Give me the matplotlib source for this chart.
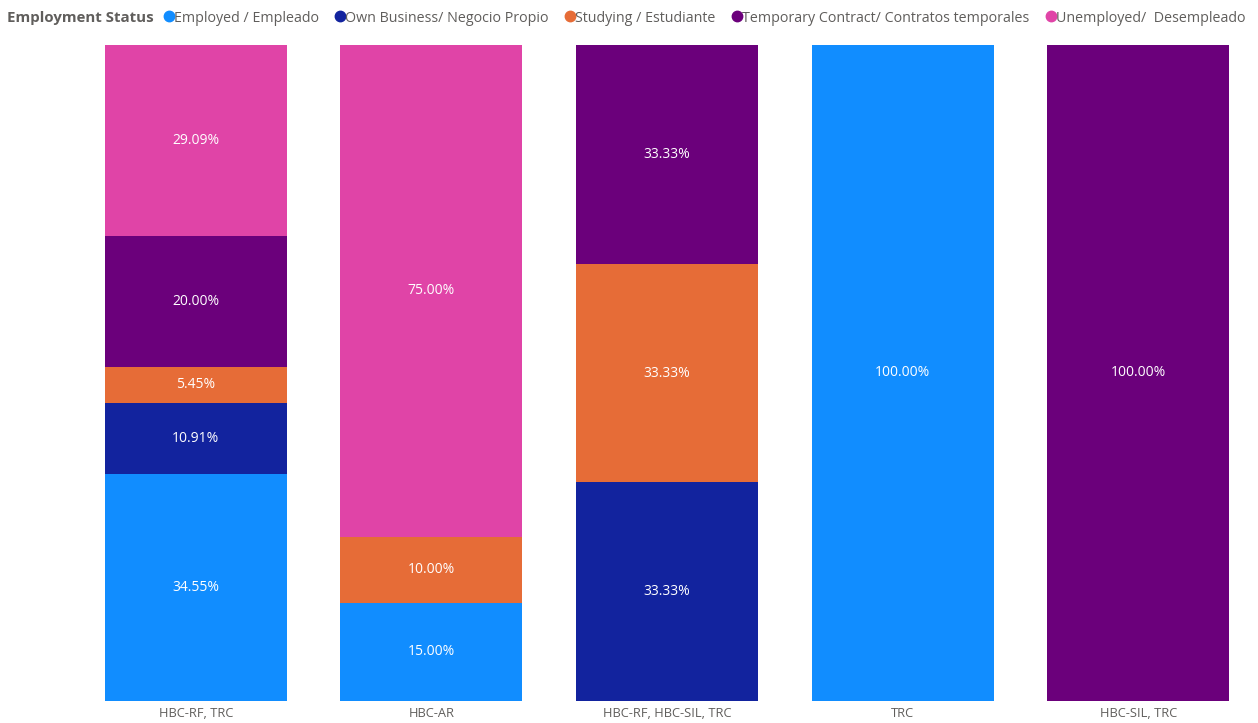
import numpy as np
import matplotlib.pyplot as plt
from matplotlib.lines import Line2D

plt.rcParams['font.family'] = ['Open Sans', 'DejaVu Sans']

# Categorías y porcentajes por estado laboral
grupos = ['HBC-RF, TRC', 'HBC-AR', 'HBC-RF, HBC-SIL, TRC', 'TRC', 'HBC-SIL, TRC']
estados = ['Employed / Empleado', 'Own Business/ Negocio Propio', 'Studying / Estudiante',
           'Temporary Contract/ Contratos temporales', 'Unemployed/  Desempleado']
empleado = [34.55, 15.00, 0, 100.00, 0]
negocio = [10.91, 0, 33.33, 0, 0]
estudiante = [5.45, 10.00, 33.33, 0, 0]
temporal = [20.00, 0, 33.33, 0, 100.00]
desempleado = [29.09, 75.00, 0, 0, 0]
colores = ['#118DFF', '#12239E', '#E66C37', '#6B007B', '#E044A7']

series = [empleado, negocio, estudiante, temporal, desempleado]

fig = plt.figure(figsize=(12.58, 7.23), dpi=100)
ax = fig.add_axes([78 / 1258, 22 / 723, 1178 / 1258, 656 / 723])

x = np.arange(len(grupos))
base = np.zeros(len(grupos))
for valores, color in zip(series, colores):
    valores = np.array(valores)
    ax.bar(x, valores, bottom=base, width=0.773, color=color)
    for i, v in enumerate(valores):
        if v > 0:
            ax.text(x[i], base[i] + v / 2, f'{v:.2f}%', ha='center', va='center',
                    color='white', fontsize=10)
    base += valores

ax.set_xlim(-0.5, 4.5)
ax.set_ylim(0, 100)
ax.set_yticks([])
ax.set_xticks(x)
ax.set_xticklabels(grupos, fontsize=9.3, color='#605E5C')
ax.tick_params(axis='x', length=0, pad=4)
for lado in ax.spines.values():
    lado.set_visible(False)

# Leyenda en una sola línea arriba
fig.text(7 / 1258, 1 - 18 / 723, 'Employment Status', fontsize=10.8, fontweight='bold',
         color='#605E5C', va='center')
marcas = [Line2D([], [], marker='o', linestyle='', color=c, markersize=7.5) for c in colores]
fig.legend(marcas, estados, loc='center left', bbox_to_anchor=(160 / 1258, 1 - 18 / 723),
           ncol=5, frameon=False, fontsize=10.3, handletextpad=-0.25, columnspacing=0.9,
           borderpad=0, borderaxespad=0, labelcolor='#605E5C', handlelength=1.2)

plt.savefig('out.png', dpi=100)
